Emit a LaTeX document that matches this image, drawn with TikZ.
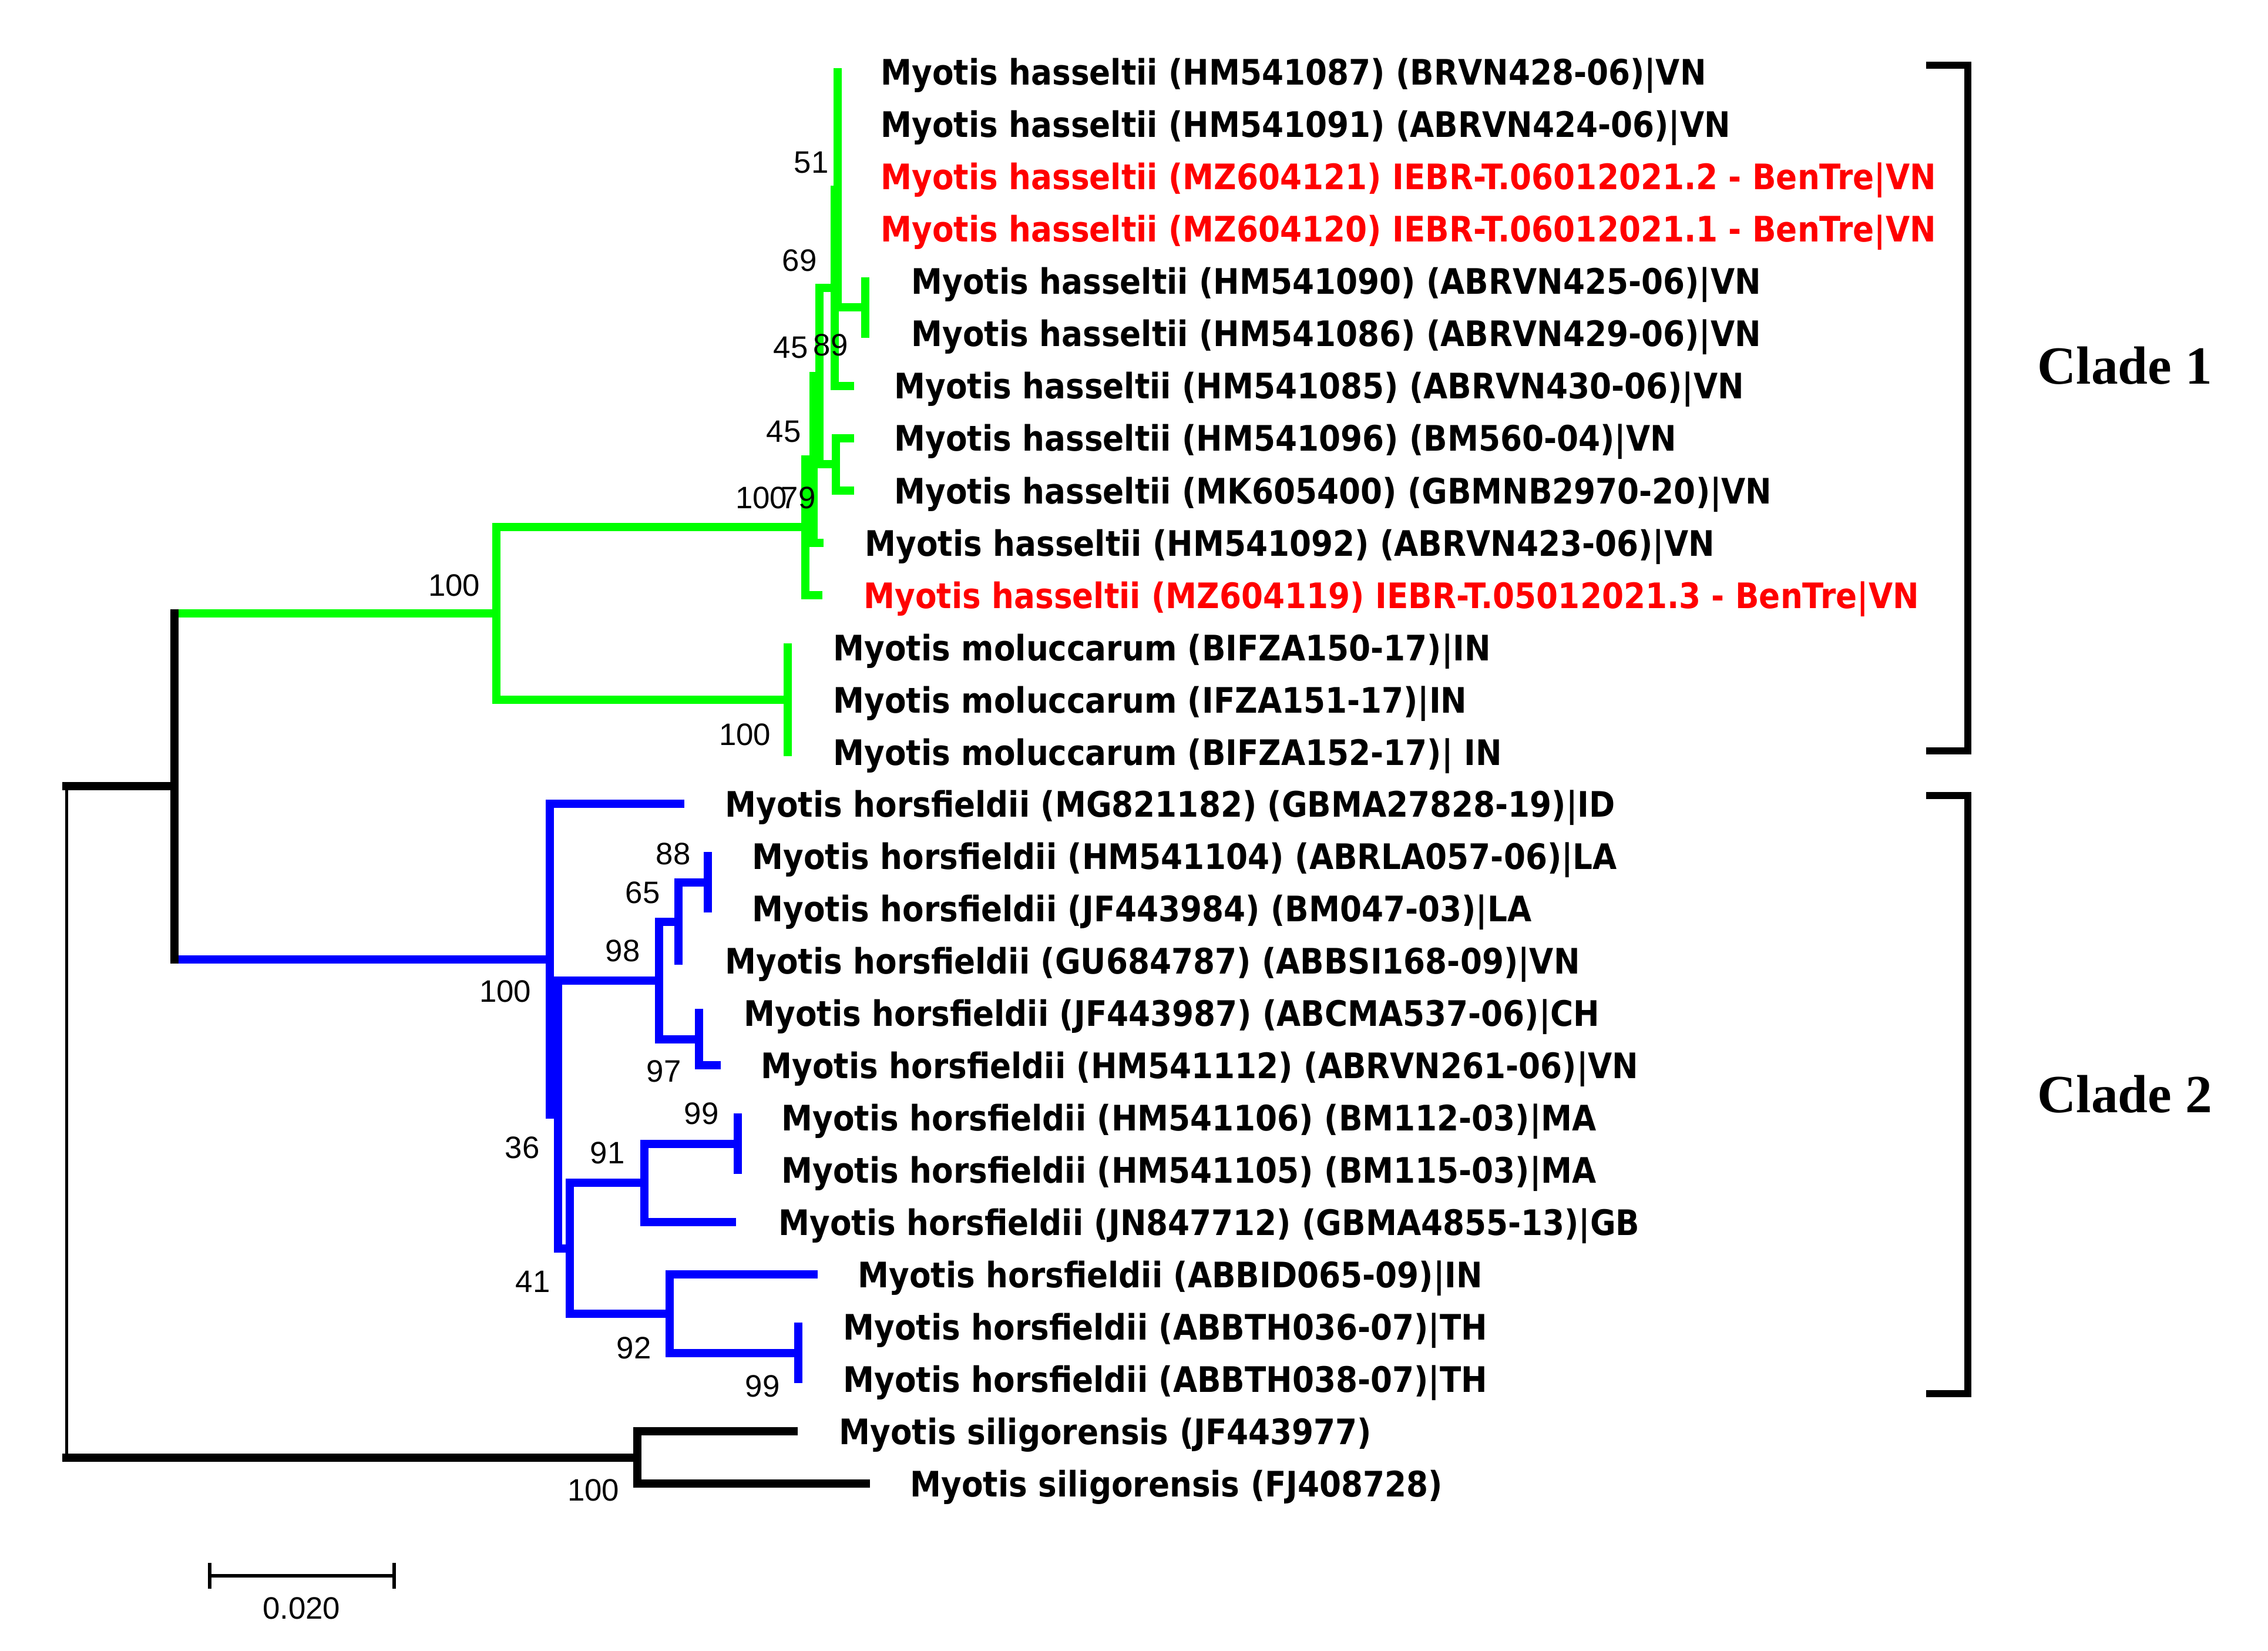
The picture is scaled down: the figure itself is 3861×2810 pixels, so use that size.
\documentclass[tikz,border=0pt]{standalone}
\usepackage{fontspec}
\usepackage{tikz}
\newfontfamily\labfont{DejaVu Sans}[FakeStretch=0.89]
\newfontfamily\numfont{Liberation Sans}
\newfontfamily\cladefont{Liberation Serif}
\definecolor{tgreen}{HTML}{00FF00}
\definecolor{tblue}{HTML}{0000FF}
\definecolor{tred}{HTML}{FF0000}
\begin{document}
\begin{tikzpicture}[x=0.01cm,y=-0.01cm,
  br/.style={line width=0.14cm, line cap=rect, line join=miter},
  gbr/.style={br, draw=tgreen},
  bbr/.style={br, draw=tblue},
  kbr/.style={br, draw=black},
  leaf/.style={anchor=base west, inner sep=0pt, font=\labfont\bfseries\fontsize{17}{20}\selectfont},
  rleaf/.style={leaf, text=tred},
  boot/.style={inner sep=0pt, font=\numfont\fontsize{15}{18}\selectfont},
  cladelab/.style={anchor=base west, inner sep=0pt, font=\cladefont\bfseries\fontsize{26}{30}\selectfont},
  bracket/.style={line width=0.12cm, line cap=butt, line join=miter}]
\useasboundingbox[fill=white] (0,0) rectangle (3861,2810);

% ---------- coordinates: tips ----------
\coordinate (t1) at (1426,123);
\coordinate (t5) at (1473,478.8);
\coordinate (t6) at (1473,567.8);
\coordinate (t7) at (1447,656.8);
\coordinate (t8) at (1447,745.7);
\coordinate (t9) at (1447,834.7);
\coordinate (t10) at (1395,923.6);
\coordinate (t11) at (1393,1012.6);
\coordinate (t12) at (1341,1101.6);
\coordinate (t14) at (1341,1279.5);
\coordinate (t15) at (1158,1368.4);
\coordinate (t16) at (1205,1457.4);
\coordinate (t17) at (1205,1546.4);
\coordinate (t18) at (1155,1635.3);
\coordinate (t19) at (1190,1724.3);
\coordinate (t20) at (1220,1813.2);
\coordinate (t21) at (1256,1902.2);
\coordinate (t22) at (1256,1991.2);
\coordinate (t23) at (1246,2080.1);
\coordinate (t24) at (1385,2169.1);
\coordinate (t25) at (1359,2258.0);
\coordinate (t26) at (1359,2347.0);
\coordinate (t27) at (1351,2436.0);
\coordinate (t28) at (1474,2524.9);

% ---------- coordinates: internal nodes ----------
\coordinate (n56) at (1473,523.3);
\coordinate (h5b) at (1426,523.3);
\coordinate (h5) at (1426,323);
\coordinate (h4) at (1421,489.9);
\coordinate (h3) at (1423,790.2);
\coordinate (h2) at (1395,640);
\coordinate (h1) at (1385,781.8);
\coordinate (h0) at (1371,897.2);
\coordinate (m) at (1341,1190.5);
\coordinate (g) at (845,1043.9);
\coordinate (b88) at (1205,1501.9);
\coordinate (b65) at (1155,1568.6);
\coordinate (b97) at (1190,1768.8);
\coordinate (b98) at (1122,1668.7);
\coordinate (b99a) at (1256,1946.7);
\coordinate (b91) at (1097,2013.4);
\coordinate (b99b) at (1359,2302.5);
\coordinate (b92) at (1140,2235.8);
\coordinate (b41) at (970,2124.6);
\coordinate (b36) at (950,1896.7);
\coordinate (b100) at (936,1632.6);
\coordinate (r1g) at (297,1043.9);
\coordinate (r1b) at (297,1632.6);
\coordinate (r1m) at (297,1338.2);
\coordinate (s) at (1085,2480.5);
\coordinate (r0t) at (113,1338.2);
\coordinate (r0b) at (113,2480.5);

% ---------- green clade ----------
\draw[gbr] (t5) -- (t6);
\draw[gbr] (t1) -- (h5b) -- (n56);
\draw[gbr] (h5) -| (h4) |- (t7);
\draw[gbr] (t8) -| (h3) |- (t9);
\draw[gbr] (h4) -| (h2) |- (h3);
\draw[gbr] (h2) -| (h1) |- (t10);
\draw[gbr] (h1) -| (h0) |- (t11);
\draw[gbr] (t12) -- (t14);
\draw[gbr] (h0) -| (g) |- (m);
\draw[gbr] (r1g) -- (g);

% ---------- blue clade ----------
\draw[bbr] (t16) -- (t17);
\draw[bbr] (b88) -| (b65) |- (t18);
\draw[bbr] (t19) -| (b97) |- (t20);
\draw[bbr] (b65) -| (b98) |- (b97);
\draw[bbr] (t21) -- (t22);
\draw[bbr] (b99a) -| (b91) |- (t23);
\draw[bbr] (t25) -- (t26);
\draw[bbr] (t24) -| (b92) |- (b99b);
\draw[bbr] (b91) -| (b41) |- (b92);
\draw[bbr] (b98) -| (b36) |- (b41);
\draw[bbr] (t15) -| (b100) |- (b36);
\draw[bbr] (r1b) -- (b100);

% ---------- black root and outgroup ----------
\draw[kbr] (r1g) -- (r1b);
\draw[kbr] (r0t) -- (r1m);
\draw[kbr] (r0b) -- (s);
\draw[kbr] (t27) -| (s) |- (t28);
\draw[line width=0.05cm, line cap=butt] (r0t) -- (r0b);

% ---------- leaf labels ----------
\node[leaf]  (L1)  at (1499,145) {Myotis hasseltii (HM541087) (BRVN428-06)|VN};
\node[leaf]  (L2)  at (1499,234) {Myotis hasseltii (HM541091) (ABRVN424-06)|VN};
\node[rleaf] (L3)  at (1499,323) {Myotis hasseltii (MZ604121) IEBR-T.06012021.2 - BenTre|VN};
\node[rleaf] (L4)  at (1499,412) {Myotis hasseltii (MZ604120) IEBR-T.06012021.1 - BenTre|VN};
\node[leaf]  (L5)  at (1551,501) {Myotis hasseltii (HM541090) (ABRVN425-06)|VN};
\node[leaf]  (L6)  at (1551,590) {Myotis hasseltii (HM541086) (ABRVN429-06)|VN};
\node[leaf]  (L7)  at (1522,679) {Myotis hasseltii (HM541085) (ABRVN430-06)|VN};
\node[leaf]  (L8)  at (1522,768) {Myotis hasseltii (HM541096) (BM560-04)|VN};
\node[leaf]  (L9)  at (1522,857) {Myotis hasseltii (MK605400) (GBMNB2970-20)|VN};
\node[leaf]  (L10) at (1472,946) {Myotis hasseltii (HM541092) (ABRVN423-06)|VN};
\node[rleaf] (L11) at (1470,1035) {Myotis hasseltii (MZ604119) IEBR-T.05012021.3 - BenTre|VN};
\node[leaf]  (L12) at (1418,1124) {Myotis moluccarum (BIFZA150-17)|IN};
\node[leaf]  (L13) at (1418,1213) {Myotis moluccarum (IFZA151-17)|IN};
\node[leaf]  (L14) at (1418,1302) {Myotis moluccarum (BIFZA152-17)| IN};
\node[leaf]  (L15) at (1234,1390) {Myotis horsfieldii (MG821182) (GBMA27828-19)|ID};
\node[leaf]  (L16) at (1280,1479) {Myotis horsfieldii (HM541104) (ABRLA057-06)|LA};
\node[leaf]  (L17) at (1280,1568) {Myotis horsfieldii (JF443984) (BM047-03)|LA};
\node[leaf]  (L18) at (1234,1657) {Myotis horsfieldii (GU684787) (ABBSI168-09)|VN};
\node[leaf]  (L19) at (1266,1746) {Myotis horsfieldii (JF443987) (ABCMA537-06)|CH};
\node[leaf]  (L20) at (1295,1835) {Myotis horsfieldii (HM541112) (ABRVN261-06)|VN};
\node[leaf]  (L21) at (1330,1924) {Myotis horsfieldii (HM541106) (BM112-03)|MA};
\node[leaf]  (L22) at (1330,2013) {Myotis horsfieldii (HM541105) (BM115-03)|MA};
\node[leaf]  (L23) at (1325,2102) {Myotis horsfieldii (JN847712) (GBMA4855-13)|GB};
\node[leaf]  (L24) at (1460,2191) {Myotis horsfieldii (ABBID065-09)|IN};
\node[leaf]  (L25) at (1435,2280) {Myotis horsfieldii (ABBTH036-07)|TH};
\node[leaf]  (L26) at (1435,2369) {Myotis horsfieldii (ABBTH038-07)|TH};
\node[leaf]  (L27) at (1428,2458) {Myotis siligorensis (JF443977)};
\node[leaf]  (L28) at (1549,2547) {Myotis siligorensis (FJ408728)};

% ---------- bootstrap values ----------
\node[boot] (bs1)  at (1381,277)  {51};
\node[boot] (bs2)  at (1361,443)  {69};
\node[boot] (bs3)  at (1346,592)  {45};
\node[boot] (bs4)  at (1414,587)  {89};
\node[boot] (bs5)  at (1334,735)  {45};
\node[boot] (bs6)  at (1296,847)  {100};
\node[boot] (bs7)  at (1359,847)  {79};
\node[boot] (bs8)  at (773,996)   {100};
\node[boot] (bs9)  at (1268,1250) {100};
\node[boot] (bs10) at (1146,1453) {88};
\node[boot] (bs11) at (1094,1519) {65};
\node[boot] (bs12) at (1060,1618) {98};
\node[boot] (bs13) at (860,1687)  {100};
\node[boot] (bs14) at (1130,1823) {97};
\node[boot] (bs15) at (1194,1895) {99};
\node[boot] (bs16) at (889,1953)  {36};
\node[boot] (bs17) at (1034,1962) {91};
\node[boot] (bs18) at (907,2181)  {41};
\node[boot] (bs19) at (1079,2294) {92};
\node[boot] (bs20) at (1298,2359) {99};
\node[boot] (bs21) at (1010,2536) {100};

% ---------- clade brackets ----------
\coordinate (c1a) at (3279,111);
\coordinate (c1b) at (3350,111);
\coordinate (c1c) at (3350,1278);
\coordinate (c1d) at (3279,1278);
\draw[bracket] (c1a) -- (c1b) -- (c1c) -- (c1d);
\coordinate (c2a) at (3279,1354);
\coordinate (c2b) at (3350,1354);
\coordinate (c2c) at (3350,2372);
\coordinate (c2d) at (3279,2372);
\draw[bracket] (c2a) -- (c2b) -- (c2c) -- (c2d);
\node[cladelab] (cl1) at (3468,654) {Clade 1};
\node[cladelab] (cl2) at (3468,1893) {Clade 2};

% ---------- scale bar ----------
\coordinate (sb1) at (357,2682);
\coordinate (sb2) at (671,2682);
\draw[line width=0.06cm] (sb1) -- (sb2);
\draw[line width=0.06cm] ([yshift=0.22cm]sb1) -- ([yshift=-0.22cm]sb1);
\draw[line width=0.06cm] ([yshift=0.22cm]sb2) -- ([yshift=-0.22cm]sb2);
\node[boot] (sbl) at (513,2737) {0.020};
\end{tikzpicture}
\end{document}
